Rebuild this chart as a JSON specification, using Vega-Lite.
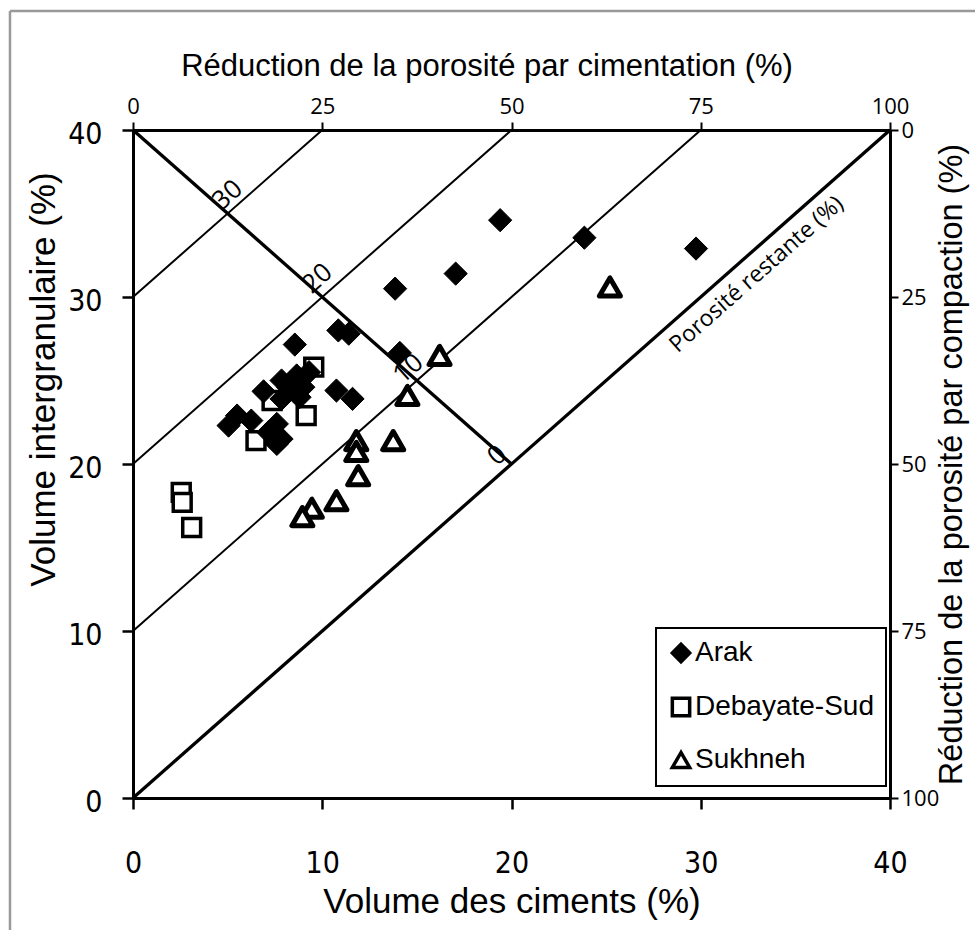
{
  "$schema": "https://vega.github.io/schema/vega-lite/v6.json",
  "width": 757,
  "height": 668,
  "autosize": {"type": "none"},
  "padding": {"left": 133, "top": 130, "right": 85, "bottom": 132},
  "background": "white",
  "config": {
    "view": {"stroke": null},
    "axis": {"grid": false, "domainColor": "black", "tickColor": "black", "labelColor": "black", "titleColor": "black", "titleFontWeight": "normal"}
  },
  "layer": [
    {
      "encoding": {
        "x": {
          "field": "x", "type": "quantitative",
          "scale": {"domain": [0, 40], "nice": false},
          "axis": {
            "orient": "bottom", "values": [0, 10, 20, 30, 40], "title": "Volume des ciments (%)",
            "domainWidth": 3, "tickWidth": 2.5, "tickSize": 11,
            "labelFont": "Liberation Sans Narrow, DejaVu Sans Condensed, Roboto Condensed, Liberation Sans", "labelFontSize": 30, "labelBaseline": "alphabetic", "labelPadding": 63,
            "labelFlush": false, "labelOverlap": false,
            "titleFont": "Liberation Sans", "titleFontSize": 35, "titleBaseline": "alphabetic", "titleAlign": "center", "titleX": 378.5, "titleY": 114
          }
        },
        "y": {
          "field": "y", "type": "quantitative",
          "scale": {"domain": [0, 40], "nice": false},
          "axis": {
            "orient": "left", "values": [0, 10, 20, 30, 40], "title": "Volume intergranulaire (%)",
            "domainWidth": 3, "tickWidth": 2.5, "tickSize": 11,
            "labelFont": "Liberation Sans Narrow, DejaVu Sans Condensed, Roboto Condensed, Liberation Sans", "labelFontSize": 30, "labelPadding": 20, "labelBaseline": "middle", "labelOffset": 4,
            "labelFlush": false, "labelOverlap": false,
            "titleFont": "Liberation Sans", "titleFontSize": 35, "titleAngle": 270, "titleBaseline": "alphabetic", "titleAlign": "center", "titleX": -79, "titleY": 249
          }
        }
      },
      "layer": [
        {
          "data": {"values": [
            {"x": -6.5, "y": 47.13, "x2": 44.6, "y2": 47.13},
            {"x": -6.5, "y": 47.13, "x2": -6.5, "y2": -8}
          ]},
          "mark": {"type": "rule", "color": "#999999", "strokeWidth": 2.5, "clip": false},
          "encoding": {"x2": {"field": "x2"}, "y2": {"field": "y2"}}
        },
        {
          "data": {"values": [
            {"line": "p30", "x": 0, "y": 30}, {"line": "p30", "x": 10, "y": 40},
            {"line": "p20", "x": 0, "y": 20}, {"line": "p20", "x": 20, "y": 40},
            {"line": "p10", "x": 0, "y": 10}, {"line": "p10", "x": 30, "y": 40}
          ]},
          "mark": {"type": "line", "color": "black", "strokeWidth": 2},
          "encoding": {"detail": {"field": "line"}}
        },
        {
          "data": {"values": [
            {"line": "p0", "x": 0, "y": 0}, {"line": "p0", "x": 40, "y": 40},
            {"line": "anti", "x": 0, "y": 40}, {"line": "anti", "x": 20, "y": 20}
          ]},
          "mark": {"type": "line", "color": "black", "strokeWidth": 3.3},
          "encoding": {"detail": {"field": "line"}}
        },
        {
          "data": {"values": [
            {"x": 5.0, "y": 36.1, "t": "30"},
            {"x": 9.75, "y": 31.1, "t": "20"},
            {"x": 14.55, "y": 25.7, "t": "10"},
            {"x": 19.25, "y": 20.5, "t": "0"}
          ]},
          "mark": {"type": "text", "font": "Open Sans", "fontSize": 26, "angle": 318.57, "align": "center", "baseline": "middle", "color": "black"},
          "encoding": {"text": {"field": "t"}}
        },
        {
          "data": {"values": [{"x": 32.95, "y": 31.35, "t": "Porosité restante (%)"}]},
          "mark": {"type": "text", "font": "Open Sans", "fontSize": 23, "angle": 318.57, "align": "center", "baseline": "middle", "color": "black"},
          "encoding": {"text": {"field": "t"}}
        },
        {
          "data": {"values": [
            {"site": "Debayate-Sud", "x": 2.55, "y": 18.3},
            {"site": "Debayate-Sud", "x": 2.6, "y": 17.7},
            {"site": "Debayate-Sud", "x": 3.1, "y": 16.2},
            {"site": "Debayate-Sud", "x": 9.15, "y": 22.9},
            {"site": "Debayate-Sud", "x": 9.55, "y": 25.8},
            {"site": "Debayate-Sud", "x": 6.5, "y": 21.4},
            {"site": "Debayate-Sud", "x": 7.35, "y": 23.8},
            {"site": "Sukhneh", "x": 25.2, "y": 30.6},
            {"site": "Sukhneh", "x": 16.2, "y": 26.5},
            {"site": "Sukhneh", "x": 14.5, "y": 24.1},
            {"site": "Sukhneh", "x": 11.8, "y": 21.4},
            {"site": "Sukhneh", "x": 11.8, "y": 20.75},
            {"site": "Sukhneh", "x": 13.75, "y": 21.4},
            {"site": "Sukhneh", "x": 11.9, "y": 19.3},
            {"site": "Sukhneh", "x": 10.75, "y": 17.8},
            {"site": "Sukhneh", "x": 9.45, "y": 17.35},
            {"site": "Sukhneh", "x": 8.95, "y": 16.85},
            {"site": "Arak", "x": 19.4, "y": 34.6},
            {"site": "Arak", "x": 23.85, "y": 33.55},
            {"site": "Arak", "x": 29.75, "y": 32.9},
            {"site": "Arak", "x": 17.05, "y": 31.4},
            {"site": "Arak", "x": 13.85, "y": 30.5},
            {"site": "Arak", "x": 10.85, "y": 28.0},
            {"site": "Arak", "x": 11.4, "y": 27.8},
            {"site": "Arak", "x": 14.1, "y": 26.65},
            {"site": "Arak", "x": 8.55, "y": 27.15},
            {"site": "Arak", "x": 10.75, "y": 24.4},
            {"site": "Arak", "x": 11.6, "y": 23.9},
            {"site": "Arak", "x": 9.3, "y": 25.5},
            {"site": "Arak", "x": 8.65, "y": 25.3},
            {"site": "Arak", "x": 7.85, "y": 25.0},
            {"site": "Arak", "x": 6.9, "y": 24.35},
            {"site": "Arak", "x": 9.0, "y": 24.6},
            {"site": "Arak", "x": 8.8, "y": 24.0},
            {"site": "Arak", "x": 8.2, "y": 24.6},
            {"site": "Arak", "x": 7.85, "y": 23.9},
            {"site": "Arak", "x": 5.5, "y": 22.9},
            {"site": "Arak", "x": 5.05, "y": 22.3},
            {"site": "Arak", "x": 6.25, "y": 22.6},
            {"site": "Arak", "x": 7.6, "y": 22.4},
            {"site": "Arak", "x": 7.85, "y": 21.5},
            {"site": "Arak", "x": 7.15, "y": 21.9},
            {"site": "Arak", "x": 7.6, "y": 21.2}
          ]},
          "encoding": {
            "shape": {
              "field": "site", "type": "nominal",
              "scale": {"domain": ["Arak", "Debayate-Sud", "Sukhneh"], "range": ["diamond", "square", "triangle-up"]},
              "legend": {
                "orient": "none", "legendX": 523, "legendY": 498, "title": null,
                "strokeColor": "black", "padding": 11, "rowPadding": 22,
                "labelFont": "Liberation Sans", "labelFontSize": 28, "labelColor": "black", "labelOffset": 0, "labelLimit": 400,
                "symbolSize": 300, "symbolStrokeColor": "black", "symbolStrokeWidth": 3.5, "symbolOpacity": 1,
                "encode": {"legend": {"update": {"strokeWidth": {"value": 2}}}}
              }
            },
            "fill": {
              "field": "site", "type": "nominal",
              "scale": {"domain": ["Arak", "Debayate-Sud", "Sukhneh"], "range": ["black", "white", "white"]},
              "legend": {
                "orient": "none", "legendX": 523, "legendY": 498, "title": null,
                "strokeColor": "black", "padding": 11, "rowPadding": 22,
                "labelFont": "Liberation Sans", "labelFontSize": 28, "labelColor": "black", "labelOffset": 0, "labelLimit": 400,
                "symbolSize": 300, "symbolStrokeColor": "black", "symbolStrokeWidth": 3.5, "symbolOpacity": 1,
                "encode": {"legend": {"update": {"strokeWidth": {"value": 2}}}}
              }
            }
          },
          "layer": [
            {
              "transform": [{"filter": "datum.site === 'Debayate-Sud'"}],
              "mark": {"type": "point", "filled": false, "stroke": "black", "opacity": 1, "size": 320, "strokeWidth": 3.5}
            },
            {
              "transform": [{"filter": "datum.site === 'Sukhneh'"}],
              "mark": {"type": "point", "filled": false, "stroke": "black", "opacity": 1, "size": 440, "strokeWidth": 5, "strokeJoin": "round"}
            },
            {
              "transform": [{"filter": "datum.site === 'Arak'"}],
              "mark": {"type": "point", "filled": false, "stroke": "black", "opacity": 1, "size": 540, "strokeWidth": 1}
            }
          ]
        }
      ]
    },
    {
      "data": {"values": [{"p": 0}, {"p": 100}]},
      "mark": {"type": "point", "opacity": 0},
      "encoding": {
        "x": {
          "field": "p", "type": "quantitative",
          "scale": {"domain": [0, 100], "nice": false},
          "axis": {
            "orient": "top", "values": [0, 25, 50, 75, 100], "title": "Réduction de la porosité par cimentation (%)",
            "domainWidth": 3, "tickWidth": 2, "tickSize": 8,
            "labelFont": "Open Sans", "labelFontSize": 22, "labelBaseline": "alphabetic", "labelPadding": 9,
            "labelFlush": false, "labelOverlap": false,
            "titleFont": "Liberation Sans", "titleFontSize": 31, "titleBaseline": "alphabetic", "titleAlign": "center", "titleX": 353.5, "titleY": -55
          }
        },
        "y": {
          "field": "p", "type": "quantitative",
          "scale": {"domain": [0, 100], "nice": false, "reverse": true},
          "axis": {
            "orient": "right", "values": [0, 25, 50, 75, 100], "title": "Réduction de la porosité par compaction (%)",
            "domainWidth": 3, "tickWidth": 2, "tickSize": 8,
            "labelFont": "Open Sans", "labelFontSize": 22, "labelBaseline": "middle", "labelPadding": 3,
            "labelFlush": false, "labelOverlap": false,
            "titleFont": "Liberation Sans", "titleFontSize": 32.5, "titleAngle": 270, "titleBaseline": "alphabetic", "titleAlign": "center", "titleX": 71, "titleY": 334
          }
        }
      }
    }
  ],
  "resolve": {"scale": {"x": "independent", "y": "independent"}, "axis": {"x": "independent", "y": "independent"}}
}
